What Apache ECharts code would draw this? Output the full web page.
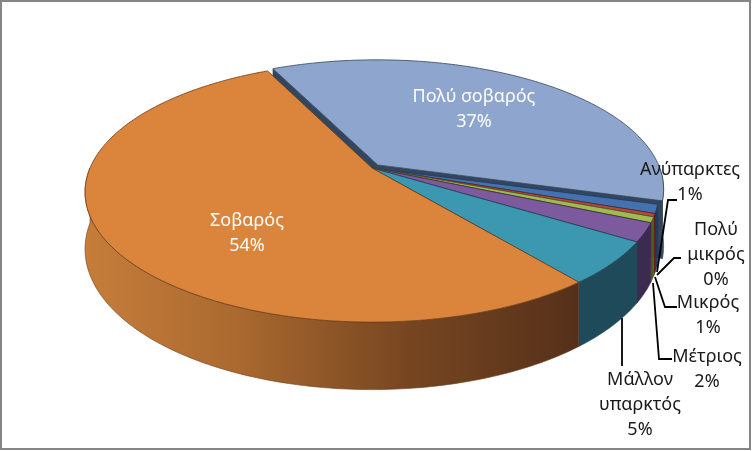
<!DOCTYPE html>
<html>
<head>
    <meta charset="UTF-8">
    <title>pie3d</title>
    <style>html,body{margin:0;padding:0;background:#fff;}</style>
</head>
<body>

<script src="https://cdn.jsdelivr.net/npm/echarts@6/dist/echarts.min.js"></script>

<div id="chartDom" style="width:752px;height:451px;"></div>

<script type="text/javascript">
    // data, clockwise order as drawn
    var names = ['Ανύπαρκτες', 'Πολύ μικρός', 'Μικρός', 'Μέτριος', 'Μάλλον υπαρκτός', 'Σοβαρός', 'Πολύ σοβαρός'];
    var labelNames = ['Ανύπαρκτες', 'Πολύ\nμικρός', 'Μικρός', 'Μέτριος', 'Μάλλον\nυπαρκτός', 'Σοβαρός', 'Πολύ σοβαρός'];
    var values = [1.1, 0.4, 0.7, 2.3, 5.3, 53.8, 36.6];
    var explode = [0, 0, 0, 0, 0, 0, 0.032];

    var topColors = ['#4272B0', '#B8483F', '#9FBB50', '#7C5A9D', '#3C98B0', '#DA843C', '#8EA5CE'];
    var sideColors = ['#22395A', '#5E2220', '#4F5E25', '#3B2B4E', '#1E4A59', null, '#34465E'];

    // label placement (text top-centre and leader line)
    var labelLayout = [
        {x: 690, y: 157, line: [[677, 200], [668, 200], [657, 272]]},
        {x: 716, y: 217, line: [[681, 258], [674, 258], [657, 275]]},
        {x: 708, y: 290, line: [[677, 307], [665, 307], [655, 277]]},
        {x: 707, y: 344, line: [[672, 359], [659, 359], [653, 283]]},
        {x: 640, y: 367, line: [[622, 366], [622, 318]]},
        {x: 247, y: 208, inside: true},
        {x: 474, y: 84, inside: true}
    ];

    // projection of the tilted disc
    var CX = 372, CY = 168, A = 282, B = 125.6, P = 0.185, DEPTH = 55, START = 105.9;

    var total = values.reduce(function (a, b) { return a + b; }, 0);
    var slices = [];
    var acc = START;
    values.forEach(function (v) {
        var span = v / total * 360;
        slices.push({a0: acc, a1: acc + span});
        acc += span;
    });

    function proj(deg, r, off, h) {
        var t = deg * Math.PI / 180;
        var u = r * Math.sin(t) + off[0];
        var v = r * Math.cos(t) + off[1];
        var w = 1 + P * v;
        return [CX + A * u / w, CY - B * v / w + h * DEPTH / w];
    }

    function arc(a0, a1, off, h) {
        var pts = [];
        var n = Math.max(2, Math.ceil(Math.abs(a1 - a0)));
        for (var k = 0; k <= n; k++) {
            pts.push(proj(a0 + (a1 - a0) * k / n, 1, off, h));
        }
        return pts;
    }

    function sideFill(i) {
        if (i === 5) {
            return new echarts.graphic.LinearGradient(0, 0, 1, 0, [
                {offset: 0, color: '#C67D3A'},
                {offset: 0.3, color: '#AB6A30'},
                {offset: 0.65, color: '#774621'},
                {offset: 1, color: '#55301A'}
            ]);
        }
        return sideColors[i];
    }

    function renderSlice(params, api) {
        var i = params.dataIndex;
        var s = slices[i];
        var e = explode[i];
        var mid = (s.a0 + s.a1) / 2 * Math.PI / 180;
        var off = [e * Math.sin(mid), e * Math.cos(mid)];
        var edge = sideColors[i] || '#6B3E1C';
        var children = [];

        // visible outer side (front half of the rim)
        [[90, 270], [450, 630]].forEach(function (rng) {
            var lo = Math.max(s.a0, rng[0]), hi = Math.min(s.a1, rng[1]);
            if (hi > lo) {
                var pts = arc(lo, hi, off, 0).concat(arc(hi, lo, off, 1));
                children.push({
                    type: 'polygon', z2: 10,
                    shape: {points: pts},
                    style: {fill: sideFill(i), stroke: edge, lineWidth: 0.6}
                });
            }
        });

        // cut walls of the pulled-out slice
        if (e > 0) {
            [s.a0, s.a1].forEach(function (a) {
                children.push({
                    type: 'polygon', z2: 5,
                    shape: {points: [proj(0, 0, off, 0), proj(a, 1, off, 0), proj(a, 1, off, 1), proj(0, 0, off, 1)]},
                    style: {fill: sideColors[i], stroke: sideColors[i], lineWidth: 0.6}
                });
            });
        }

        // top face
        children.push({
            type: 'polygon', z2: 20,
            shape: {points: [proj(0, 0, off, 0)].concat(arc(s.a0, s.a1, off, 0))},
            style: {fill: topColors[i], stroke: edge, lineWidth: 0.8}
        });

        // label
        var lay = labelLayout[i];
        var pct = Math.round(api.value(0) / total * 100) + '%';
        children.push({
            type: 'text', z2: 40,
            style: {
                text: labelNames[i] + '\n' + pct,
                x: lay.x, y: lay.y,
                align: 'center', verticalAlign: 'top',
                lineHeight: 25,
                fontFamily: '"Noto Sans", sans-serif',
                fontSize: 18,
                fill: lay.inside ? '#FFFFFF' : '#1A1A1A'
            }
        });
        if (lay.line) {
            children.push({
                type: 'polyline', z2: 30,
                shape: {points: lay.line},
                style: {stroke: '#000', lineWidth: 1.8, fill: null}
            });
        }

        return {type: 'group', children: children};
    }

    var myChart = echarts.init(document.getElementById('chartDom'));

    var option = {
        animation: false,
        backgroundColor: '#fff',
        graphic: [{
            type: 'rect', z: 100,
            shape: {x: 1, y: 1, width: 749, height: 448},
            style: {fill: null, stroke: '#868686', lineWidth: 2}
        }],
        series: [{
            type: 'custom',
            name: 'pie',
            coordinateSystem: 'none',
            renderItem: renderSlice,
            data: values.map(function (v, i) { return {name: names[i], value: [v]}; })
        }]
    };

    myChart.setOption(option);
</script>
</body>
</html>
